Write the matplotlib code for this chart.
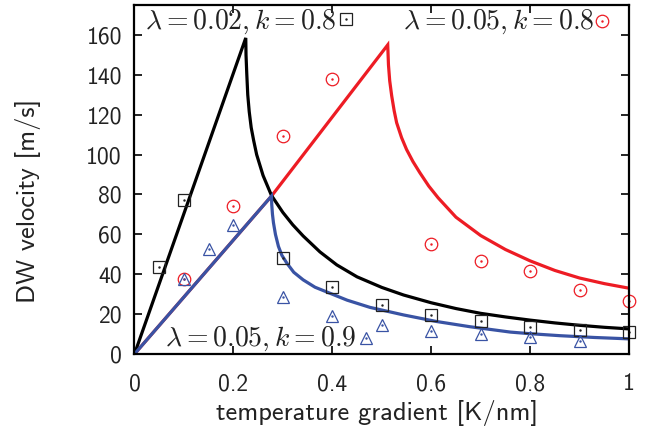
import matplotlib
matplotlib.use("Agg")
import matplotlib.pyplot as plt

plt.rcParams['mathtext.fontset'] = 'cm'

# ---- data ----
black_x = [0, 0.225, 0.2255, 0.227, 0.229, 0.232, 0.236, 0.241, 0.247, 0.26, 0.277,
           0.30, 0.32, 0.341, 0.375, 0.409, 0.45, 0.5, 0.544, 0.6, 0.65, 0.7,
           0.75, 0.8, 0.85, 0.9, 0.95, 1.0]
black_v = [0, 158.5, 150, 140.7, 130, 121.5, 113.5, 107, 100, 89.5, 79.5,
           71, 64.8, 59.2, 51.2, 44.7, 38.7, 33.4, 29.6, 25.7, 22.8, 20.4,
           18.6, 17.0, 15.6, 14.4, 13.4, 12.6]

red_x = [0, 0.277, 0.512, 0.5135, 0.516, 0.520, 0.525, 0.530, 0.540, 0.550,
         0.563, 0.577, 0.595, 0.614, 0.65, 0.7, 0.75, 0.8, 0.85, 0.9, 0.95, 1.0]
red_v = [0, 79.2, 155, 145, 137, 129.5, 122, 116, 108.5, 102.6,
         96.5, 90.9, 84.2, 78.3, 68.6, 59.4, 52.4, 46.7, 41.9, 38.1, 35.3, 33.0]

blue_x = [0, 0.277, 0.2775, 0.279, 0.281, 0.285, 0.291, 0.298, 0.308, 0.322,
          0.341, 0.365, 0.395, 0.43, 0.476, 0.544, 0.611, 0.678, 0.76, 0.8,
          0.86, 0.93, 1.0]
blue_v = [0, 79.2, 75, 70, 65.8, 60, 54, 49.5, 45.6, 41,
          37.2, 33.5, 30.5, 27, 23.4, 19.6, 16.3, 13.7, 11.0, 10.2,
          9.2, 8.3, 7.6]

sq_x = [0.05, 0.1, 0.3, 0.4, 0.5, 0.6, 0.7, 0.8, 0.9, 1.0]
sq_v = [43.7, 77, 48, 33.6, 24.8, 19.6, 16.6, 13.7, 12.1, 10.9]

circ_x = [0.1, 0.2, 0.3, 0.4, 0.6, 0.7, 0.8, 0.9, 1.0]
circ_v = [37.6, 74.1, 109.3, 137.9, 55.3, 46.5, 41.4, 32.2, 26.8]

tri_x = [0.1, 0.15, 0.2, 0.3, 0.4, 0.5, 0.6, 0.7, 0.8, 0.9]
tri_v = [37.6, 52.8, 64.9, 28.6, 19.3, 14.6, 11.7, 9.8, 8.5, 6.5]

x_ticks = [0, 0.2, 0.4, 0.6, 0.8, 1.0]
x_tick_labels = ['0', '0.2', '0.4', '0.6', '0.8', '1']
y_ticks = [0, 20, 40, 60, 80, 100, 120, 140, 160]
y_tick_labels = ['0', '20', '40', '60', '80', '100', '120', '140', '160']

labels = [r'$\lambda = 0.02, k = 0.8$', r'$\lambda = 0.05, k = 0.8$', r'$\lambda = 0.05, k = 0.9$']

BLACK = '#000000'
RED = '#ed1c24'
BLUE = '#3953a4'
TXT = '#222222'
SANS = 'cmss10'

fig = plt.figure(figsize=(6.56, 4.36), dpi=100)
ax = fig.add_axes([0.205, 0.188, 0.754, 0.8005])

lw = 2.3
ax.plot(red_x, red_v, color=RED, lw=lw, solid_joinstyle='miter', zorder=2)
ax.plot(black_x, black_v, color=BLACK, lw=lw, solid_joinstyle='miter', zorder=3)
ax.plot(blue_x, blue_v, color=BLUE, lw=lw, solid_joinstyle='miter', zorder=4)

ms = 8.8
mew = 0.9
def pts(x, y, marker, color, size=ms):
    ax.plot(x, y, ls='none', marker=marker, ms=size, mfc='none', mec=color,
            mew=mew, clip_on=False, zorder=5)
    ax.plot(x, y, ls='none', marker='.', ms=1.5, color=color, clip_on=False, zorder=6)

pts(sq_x, sq_v, 's', TXT)
pts(circ_x, circ_v, 'o', RED, size=9)
pts(tri_x, tri_v, '^', BLUE, size=9)

# key labels with their markers
fs_lab = 20
ax.text(0.021, 163, labels[0], fontsize=fs_lab, ha='left', va='baseline', color=TXT)
pts([0.428], [168], 's', TXT)
ax.text(0.543, 163, labels[1], fontsize=fs_lab, ha='left', va='baseline', color=TXT)
pts([0.945], [167], 'o', RED, size=9)
ax.text(0.062, 4.2, labels[2], fontsize=fs_lab, ha='left', va='baseline', color=TXT)
pts([0.468], [8], '^', BLUE, size=9)

ax.set_xlim(0, 1)
ax.set_ylim(0, 175)
ax.set_xticks(x_ticks)
ax.set_xticklabels(x_tick_labels, fontfamily=SANS, fontsize=17, color=TXT)
ax.set_yticks(y_ticks)
ax.set_yticklabels(y_tick_labels, fontfamily=SANS, fontsize=17, color=TXT)
ax.tick_params(direction='in', length=6, width=1.2, top=True, right=True)
ax.tick_params(axis='x', pad=14)
ax.tick_params(axis='y', pad=9)
for s in ax.spines.values():
    s.set_linewidth(1.6)
    s.set_zorder(7)

ax.set_xlabel('temperature gradient [K/nm]', fontfamily=SANS, fontsize=19, color=TXT)
ax.xaxis.set_label_coords(0.49, -0.132)
ax.set_ylabel('DW velocity [m/s]', fontfamily=SANS, fontsize=19, color=TXT)
ax.yaxis.set_label_coords(-0.19, 0.44)

fig.savefig('out.png', dpi=100)
